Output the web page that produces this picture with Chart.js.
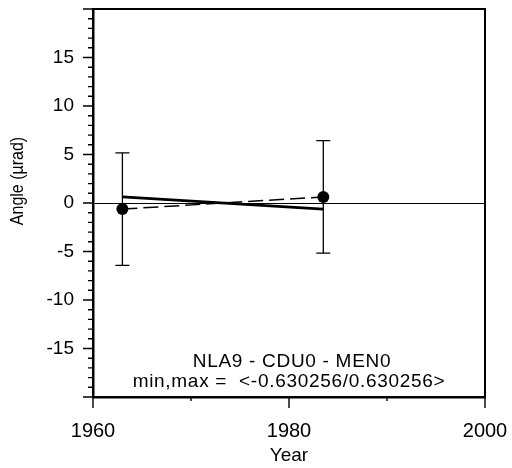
<!DOCTYPE html>
<html lang="en">

<head>
    <meta charset="UTF-8">
    <title>NLA9 - CDU0 - MEN0</title>
    <script src="https://cdn.jsdelivr.net/npm/chart.js"></script>
    <style>
        body {
            margin: 0;
            padding: 0;
            background: #fff;
        }

        #wrap {
            width: 512px;
            height: 468px;
        }
    </style>
</head>

<body>
    <div id="wrap">
        <canvas id="angleChart" width="512" height="468"></canvas>
    </div>

    <script>
        // measured epochs and angle values
        const years = [1963, 1983.5];
        const angles = [-0.630256, 0.630256];
        const errors = [5.8, 5.8];

        // fitted (solid) line
        const fitYears = [1963, 1983.5];
        const fitAngles = [0.630256, -0.630256];

        const xTickLabels = [1960, 1980, 2000];
        const yTickLabels = [-15, -10, -5, 0, 5, 10, 15];

        const infoLines = ['NLA9 - CDU0 - MEN0', 'min,max =  <-0.630256/0.630256>'];
        const yTitle = 'Angle (\u00b5rad)';

        const FONT = "'Liberation Sans', Arial, Helvetica, sans-serif";
        Chart.defaults.color = '#000';
        Chart.defaults.font.family = FONT;

        // keep the plot box fixed: no extra room for edge labels
        function noEdgePadding(s) {
            s.paddingTop = 0;
            s.paddingBottom = 0;
            s.paddingLeft = 0;
            s.paddingRight = 0;
        }

        const extras = {
            id: 'extras',
            beforeDatasetsDraw(chart) {
                const ctx = chart.ctx;
                const x = chart.scales.x, y = chart.scales.y;
                ctx.save();
                ctx.strokeStyle = '#000';
                ctx.lineWidth = 1.3;
                years.forEach((yr, i) => {
                    const px = x.getPixelForValue(yr);
                    const top = y.getPixelForValue(angles[i] + errors[i]);
                    const bot = y.getPixelForValue(angles[i] - errors[i]);
                    ctx.beginPath();
                    ctx.moveTo(px, top); ctx.lineTo(px, bot);
                    ctx.moveTo(px - 7, top); ctx.lineTo(px + 7, top);
                    ctx.moveTo(px - 7, bot); ctx.lineTo(px + 7, bot);
                    ctx.stroke();
                });
                ctx.restore();
            },
            afterDraw(chart) {
                const ctx = chart.ctx;
                const a = chart.chartArea;
                const x = chart.scales.x, y = chart.scales.y;
                ctx.save();
                ctx.strokeStyle = '#000';

                // top and right frame
                ctx.lineWidth = 2;
                ctx.beginPath();
                ctx.moveTo(a.left, a.top); ctx.lineTo(a.right, a.top); ctx.lineTo(a.right, a.bottom);
                ctx.stroke();

                // tick marks
                ctx.lineWidth = 1.4;
                ctx.beginPath();
                y.ticks.forEach(t => {
                    const py = y.getPixelForValue(t.value);
                    const len = t.value % 5 === 0 ? 10 : 5;
                    ctx.moveTo(a.left - len, py); ctx.lineTo(a.left, py);
                });
                x.ticks.forEach(t => {
                    const px = x.getPixelForValue(t.value);
                    const len = t.value % 20 === 0 ? 11 : 4;
                    ctx.moveTo(px, a.bottom); ctx.lineTo(px, a.bottom + len);
                });
                ctx.stroke();

                // info text
                ctx.fillStyle = '#000';
                ctx.font = '19px ' + FONT;
                ctx.textAlign = 'center';
                ctx.textBaseline = 'middle';
                try { ctx.letterSpacing = '0.7px'; } catch (e) {}
                const cx = (a.left + a.right) / 2;
                ctx.fillText(infoLines[0], cx + 3, 362);
                ctx.fillText(infoLines[1], cx, 382);
                try { ctx.letterSpacing = '0px'; } catch (e) {}

                // y axis title
                ctx.font = '16px ' + FONT;
                ctx.translate(18, 181);
                ctx.rotate(-Math.PI / 2);
                ctx.scale(1, 1.2);
                ctx.fillText(yTitle, 0, 0);
                ctx.restore();
            }
        };

        new Chart(document.getElementById('angleChart').getContext('2d'), {
            type: 'scatter',
            data: {
                datasets: [{
                    label: 'fit',
                    data: fitYears.map((yr, i) => ({ x: yr, y: fitAngles[i] })),
                    showLine: true,
                    borderColor: '#000',
                    borderWidth: 2.6,
                    pointRadius: 0,
                }, {
                    label: 'link',
                    data: years.map((yr, i) => ({ x: yr, y: angles[i] })),
                    showLine: true,
                    borderColor: '#000',
                    borderWidth: 1.5,
                    borderDash: [15, 6],
                    pointRadius: 0,
                }, {
                    label: 'points',
                    data: years.map((yr, i) => ({ x: yr, y: angles[i] })),
                    showLine: false,
                    pointRadius: 6,
                    pointBackgroundColor: '#000',
                    pointBorderColor: '#000',
                    pointBorderWidth: 0,
                }],
            },
            options: {
                responsive: false,
                animation: false,
                layout: { autoPadding: false, padding: { top: 9, right: 27, left: 0, bottom: 0 } },
                plugins: {
                    legend: { display: false },
                    tooltip: { enabled: false },
                },
                scales: {
                    x: {
                        type: 'linear',
                        min: 1960,
                        max: 2000,
                        afterFit: s => { s.height = 71; noEdgePadding(s); },
                        border: { display: true, color: '#000', width: 2.5 },
                        grid: { display: true, drawOnChartArea: false, drawTicks: false },
                        ticks: {
                            stepSize: 10,
                            autoSkip: false,
                            maxRotation: 0,
                            padding: 22,
                            font: { size: 20 },
                            callback: v => xTickLabels.includes(v) ? String(v) : '',
                        },
                        title: {
                            display: true,
                            text: 'Year',
                            font: { size: 19 },
                            padding: { top: 0, bottom: 1 },
                        },
                    },
                    y: {
                        min: -20,
                        max: 20,
                        afterFit: s => { s.width = 93; noEdgePadding(s); },
                        border: { display: true, color: '#000', width: 2.5 },
                        grid: {
                            drawTicks: false,
                            lineWidth: 1,
                            color: c => c.tick && c.tick.value === 0 ? '#000' : 'rgba(0,0,0,0)',
                        },
                        ticks: {
                            stepSize: 1,
                            autoSkip: false,
                            padding: 19,
                            font: { size: 19 },
                            callback: v => yTickLabels.includes(v) ? String(v) : '',
                        },
                    },
                },
            },
            plugins: [extras],
        });
    </script>
</body>

</html>
